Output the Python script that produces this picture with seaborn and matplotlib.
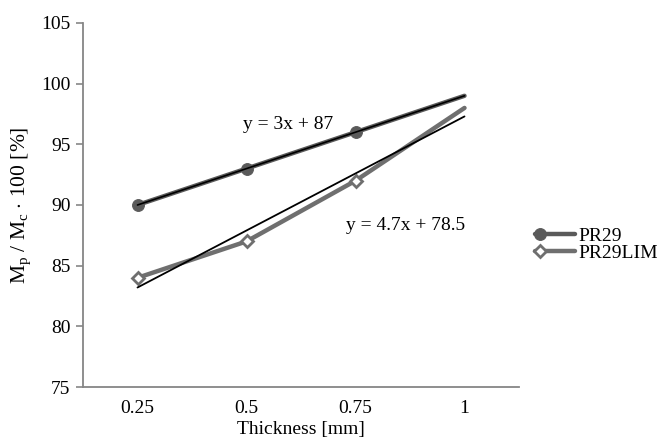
import matplotlib
matplotlib.use("Agg")
import matplotlib.pyplot as plt
from matplotlib.legend_handler import HandlerLine2DCompound
import seaborn as sns
import pandas as pd

thickness = ["0.25", "0.5", "0.75", "1"]
pr29 = [90, 93, 96, 99]
pr29lim = [84, 87, 92, 98]
trend_pr29 = [90, 93, 96, 99]
trend_lim = [83.2, 87.9, 92.6, 97.3]
eq_pr29 = "y = 3x + 87"
eq_lim = "y = 4.7x + 78.5"

sns.set_style("white")
plt.rcParams['font.family'] = ['Liberation Serif', 'DejaVu Serif']
plt.rcParams['mathtext.fontset'] = 'custom'
plt.rcParams['mathtext.rm'] = 'Liberation Serif'
plt.rcParams['mathtext.it'] = 'Liberation Serif:italic'
plt.rcParams['text.color'] = 'black'
plt.rcParams['axes.labelcolor'] = 'black'
plt.rcParams['xtick.labelcolor'] = 'black'
plt.rcParams['ytick.labelcolor'] = 'black'


class LeftMarkerHandler(HandlerLine2DCompound):
    # Excel-style legend: marker sits at the left end of the line sample
    def get_xdata(self, legend, xdescent, ydescent, width, height, fontsize):
        xdata, _ = super().get_xdata(legend, xdescent, ydescent, width, height, fontsize)
        return xdata, [xdata[0] + 0.12 * width]


pos = list(range(len(thickness)))
df = pd.DataFrame({"pos": pos, "PR29": pr29, "PR29LIM": pr29lim,
                   "t1": trend_pr29, "t2": trend_lim})

fig = plt.figure(figsize=(6.59, 4.48), dpi=100)
ax = fig.add_axes([83 / 659, 1 - 387 / 448, 436 / 659, 364 / 448])

axis_grey = "#868686"
c1 = "#5a5a5a"
c2 = "#6f6f6f"
fs = 14

sns.lineplot(data=df, x="pos", y="PR29", ax=ax, color=c1, lw=3.2,
             marker="o", markersize=8.5, markerfacecolor=c1, markeredgecolor=c1,
             markevery=[0, 1, 2], label="PR29", zorder=3)
sns.lineplot(data=df, x="pos", y="PR29LIM", ax=ax, color=c2, lw=3.2,
             marker="D", markersize=6, markerfacecolor="white", markeredgecolor=c2,
             markeredgewidth=2, markevery=[0, 1, 2], label="PR29LIM", zorder=3)
sns.lineplot(data=df, x="pos", y="t1", ax=ax, color="black", lw=1.2, zorder=4)
sns.lineplot(data=df, x="pos", y="t2", ax=ax, color="black", lw=1.3, zorder=4)

ax.text(1.385, 96.6, eq_pr29, ha="center", va="center", fontsize=fs)
ax.text(2.46, 88.3, eq_lim, ha="center", va="center", fontsize=fs)

ax.set_xlim(-0.5, 3.5)
ax.set_ylim(75, 105)
ax.set_yticks(range(75, 106, 5))
ax.set_xticks(pos)
ax.set_xticklabels(thickness)
ax.set_xticks([p - 0.5 for p in pos] + [3.5], minor=True)
ax.tick_params(axis="x", which="major", length=0, labelsize=fs, pad=9)
ax.tick_params(axis="x", which="minor", length=5, width=1.2, color=axis_grey, direction="out")
ax.tick_params(axis="y", length=5, width=1.2, color=axis_grey, direction="out",
               labelsize=fs, pad=4, left=True)

for s in ["top", "right"]:
    ax.spines[s].set_visible(False)
for s in ["left", "bottom"]:
    ax.spines[s].set_color(axis_grey)
    ax.spines[s].set_linewidth(1.3)

ax.set_xlabel("Thickness [mm]", fontsize=fs, labelpad=3)
ax.set_ylabel(r"M$_\mathrm{p}$ / M$_\mathrm{c}$ $\cdot$ 100 [%]", fontsize=15.5, labelpad=6)

handles, labels = ax.get_legend_handles_labels()
ax.legend(handles, labels, loc="center left", bbox_to_anchor=(1.037, 0.391),
          frameon=False, fontsize=fs, numpoints=1, handlelength=2.05,
          handletextpad=0.15, labelspacing=0.0, borderpad=0, borderaxespad=0,
          handler_map={h: LeftMarkerHandler() for h in handles})

fig.savefig("out.png", dpi=100)
